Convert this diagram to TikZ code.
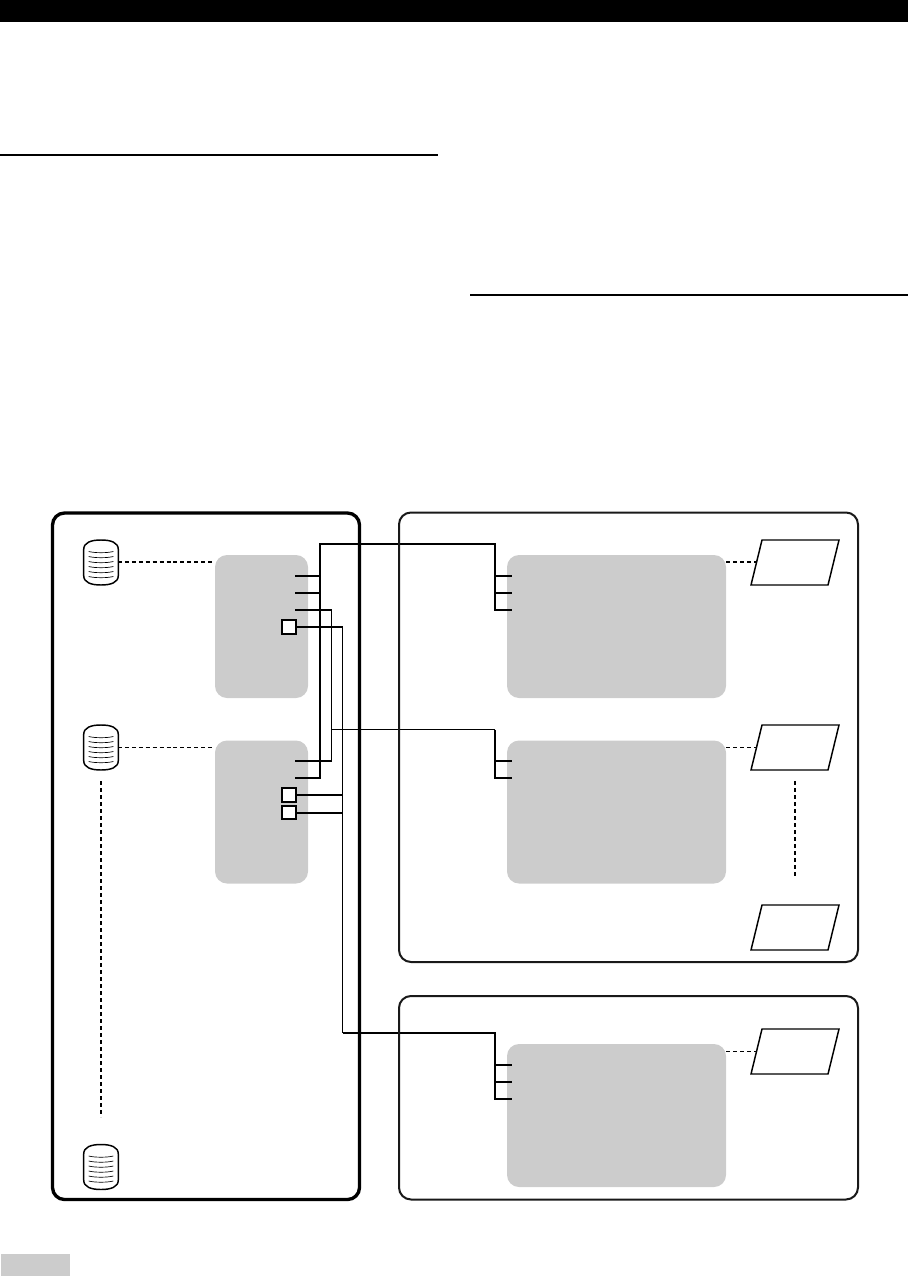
\documentclass[tikz,border=0pt]{standalone}
\usetikzlibrary{calc}
\definecolor{panelgray}{HTML}{CCCCCC}
\tikzset{
  px/.style={x=0.75pt,y=-0.75pt},
  heavy/.style={line width=1.5pt,line cap=butt,line join=miter},
  hair/.style={line width=0.7pt,line join=miter},
  outerpanel/.style={draw=black,line width=2.5pt,rounded corners=9pt,fill=none},
  innerpanel/.style={draw=black!90,line width=1.5pt,rounded corners=9pt,fill=none},
  graybox/.style={fill=panelgray,draw=none,rounded corners=9pt,inner sep=0pt},
  portbox/.style={draw=black,line width=1.4pt,fill=white,minimum size=10pt,inner sep=0pt},
  dashthick/.style={line width=1.4pt,dash pattern=on 3pt off 2.2pt},
  dashthin/.style={line width=0.7pt,dash pattern=on 3pt off 2.2pt},
  dotv/.style={line width=1.5pt,dash pattern=on 3pt off 2.25pt},
  para/.style={draw=black,line width=1.1pt,fill=white,line join=miter},
  hairline/.style={line width=0.5pt},
  pics/drum/.style={code={
    \draw[line width=1.1pt,fill=white]
      (-17.3,-13) .. controls (-17.3,-20) and (-10,-22.5) .. (0,-22.5)
      .. controls (10,-22.5) and (17.3,-20) .. (17.3,-13)
      -- (17.3,13) .. controls (17.3,20) and (10,22.5) .. (0,22.5)
      .. controls (-10,22.5) and (-17.3,20) .. (-17.3,13) -- cycle;
    \foreach \yy in {-11,-6,-1,4,9,14}
      \draw[hairline] (-12.3,\yy) .. controls (-6,\yy+1.6) and (6,\yy+1.6) .. (12.3,\yy);
  }}
}
\begin{document}
\begin{tikzpicture}[px]
\useasboundingbox (0,0) rectangle (908,1276);
% header and rules
\fill[black] (0,0) rectangle (908,22);
\draw[line width=1.5pt] (0,155) coordinate (ruleAa) -- (438,155) coordinate (ruleAb);
\draw[line width=1.5pt] (470,295) coordinate (ruleBa) -- (908,295) coordinate (ruleBb);
\fill[panelgray] (1,1254) rectangle (70,1276);

% gray units
\node[graybox,minimum width=69.75pt,minimum height=107.25pt] (unitA) at (261.5,626.5) {};
\node[graybox,minimum width=69.75pt,minimum height=107.25pt] (unitB) at (261.5,812) {};
\node[graybox,minimum width=164.25pt,minimum height=107.25pt] (unitC) at (616.5,626.5) {};
\node[graybox,minimum width=164.25pt,minimum height=107.25pt] (unitD) at (616.5,812) {};
\node[graybox,minimum width=164.25pt,minimum height=107.25pt] (unitE) at (616.5,1115.5) {};

% drums
\coordinate (drumA) at (101,562.5);
\coordinate (drumB) at (101,747.5);
\coordinate (drumC) at (101,1167);
\pic at (drumA) {drum};
\pic at (drumB) {drum};
\pic at (drumC) {drum};
\coordinate (drumAe) at (118,562);
\coordinate (drumBe) at (118,747.5);
\draw[dashthick] (drumAe) -- (unitA.west |- drumAe);
\draw[dashthin] (drumBe) -- (unitB.west |- drumBe);
\coordinate (vdotA) at (101,781);
\coordinate (vdotB) at (101,1117);
\draw[dotv] (vdotA) -- (vdotB);

% screens
\foreach \nm/\yy/\dy in {scrA/540/22,scrB/725/22.5,scrC/905/22.5,scrD/1029/22.5}{
  \draw[para] (762,\yy) -- (839,\yy) -- (828,\yy+45) -- (751,\yy+45) -- cycle;
  \coordinate (\nm) at (756.5,\yy+\dy);
}
\draw[dashthick] (unitC.east |- scrA) -- (scrA);
\draw[dashthin] (unitD.east |- scrB) -- (scrB);
\draw[dashthin] (unitE.east |- scrD) -- (scrD);
\coordinate (vdotC) at (795,781);
\coordinate (vdotD) at (795,876);
\draw[dotv] (vdotC) -- (vdotD);

% port end points
\coordinate (a1) at (295,576);
\coordinate (a2) at (295,593);
\coordinate (a3) at (295,610);
\coordinate (b1) at (295,761);
\coordinate (b2) at (295,777.5);
\coordinate (c1) at (512,576);
\coordinate (c2) at (512,593);
\coordinate (c3) at (512,610);
\coordinate (d1) at (512,761);
\coordinate (d2) at (512,777.5);
\coordinate (e1) at (512,1065);
\coordinate (e2) at (512,1082);
\coordinate (e3) at (512,1099);
\coordinate (busA) at (320,544);
\coordinate (busC) at (495,544);
\coordinate (busB) at (331.5,729.5);
\coordinate (busD) at (495,729.5);
\coordinate (busE) at (342.5,1033);
\coordinate (busF) at (495,1033);
\node[portbox] (pa) at (289,627) {};
\node[portbox] (pb) at (289,795) {};
\node[portbox] (pc) at (289,812.5) {};

% thick group A to C
\draw[heavy] (b2) -| (busA) -- (busC) |- (c3);
\draw[heavy] (a1) -- (a1 -| busA);
\draw[heavy] (a2) -- (a2 -| busA);
\draw[heavy] (c1 -| busC) -- (c1);
\draw[heavy] (c2 -| busC) -- (c2);
% group B to D
\draw[heavy] (a3) -- (a3 -| busB);
\draw[heavy] (b1) -- (b1 -| busB);
\draw[hair] (a3 -| busB) -- (b1 -| busB);
\draw[hair] (busB) -- (busD);
\draw[heavy] (busD) |- (d2);
\draw[heavy] (d1 -| busD) -- (d1);
% group ports to E
\draw[heavy] (pa.east) -- (pa.east -| busE);
\draw[heavy] (pb.east) -- (pb.east -| busE);
\draw[heavy] (pc.east) -- (pc.east -| busE);
\draw[hair] (pa.east -| busE) -- (busE);
\draw[heavy] (busE) -- (busF) |- (e3);
\draw[heavy] (e1 -| busF) -- (e1);
\draw[heavy] (e2 -| busF) -- (e2);

% panels
\draw[outerpanel] (52.5,513) rectangle (359.5,1199.5);
\draw[innerpanel] (399,512.5) rectangle (858,962);
\draw[innerpanel] (399,996) rectangle (858,1199.5);
\end{tikzpicture}
\end{document}
